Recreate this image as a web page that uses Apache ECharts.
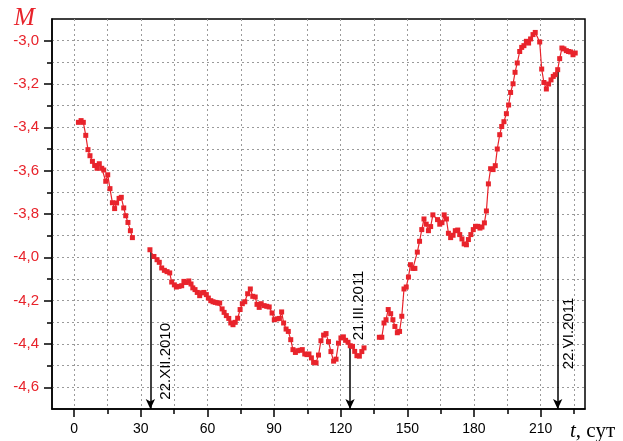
<!DOCTYPE html>
<html><head><meta charset="utf-8">
<script src="https://cdn.jsdelivr.net/npm/echarts@6/dist/echarts.min.js"></script>
<style>html,body{margin:0;padding:0;background:#fff}#c{width:623px;height:441px}</style>
</head><body><div id="c"></div>
<script>
// ---- data (t in days, M) ----
const seg1Days = [1.9,3.1,4.1,5.2,6.2,7.1,8.2,9.2,10.3,11.3,12.4,13.3,14.2,15.1,16.1,17.2,18.2,19.1,20.2,21.2,22.3,23.2,24.2,25.3,26.2];
const seg1M = [-3.377,-3.369,-3.377,-3.437,-3.503,-3.531,-3.557,-3.576,-3.589,-3.568,-3.589,-3.597,-3.649,-3.619,-3.683,-3.748,-3.775,-3.749,-3.728,-3.723,-3.772,-3.808,-3.839,-3.877,-3.909];

const seg2Days = [34.1,35.9,37.3,38.3,39.4,40.6,41.8,43.0,43.9,45.1,46.0,47.2,48.4,49.4,50.5,51.6,52.6,53.4,54.4,55.4,56.5,57.4,58.4,59.5,60.4,61.5,62.5,63.5,64.6,65.5,66.6,67.5,68.5,69.6,70.5,71.5,72.5,73.6,74.7,75.7,76.8,78.1,79.3,80.4,81.5,82.3,83.3,84.2,85.5,86.7,87.8,89.1,90.1,91.3,92.4,93.4,94.3,95.4,96.4,97.5,98.5,99.6,100.6,101.7,102.7,103.8,104.8,105.7,106.8,107.8,108.9,110.0,111.1,112.3,113.4,114.5,115.6,116.8,117.9,119.0,120.1,121.2,122.2,123.3,124.3,125.3,126.3,127.3,128.4,129.5,130.5];
const seg2M = [-3.965,-3.996,-4.011,-4.023,-4.049,-4.060,-4.066,-4.072,-4.114,-4.127,-4.137,-4.134,-4.131,-4.111,-4.116,-4.109,-4.123,-4.141,-4.149,-4.162,-4.177,-4.164,-4.162,-4.172,-4.188,-4.200,-4.205,-4.208,-4.211,-4.211,-4.238,-4.254,-4.269,-4.282,-4.303,-4.311,-4.300,-4.281,-4.241,-4.214,-4.205,-4.168,-4.146,-4.180,-4.183,-4.217,-4.231,-4.214,-4.223,-4.226,-4.229,-4.257,-4.288,-4.284,-4.282,-4.252,-4.303,-4.331,-4.342,-4.380,-4.426,-4.439,-4.431,-4.429,-4.426,-4.446,-4.449,-4.446,-4.464,-4.485,-4.487,-4.451,-4.385,-4.359,-4.352,-4.389,-4.435,-4.479,-4.470,-4.396,-4.372,-4.367,-4.383,-4.392,-4.408,-4.411,-4.434,-4.454,-4.456,-4.435,-4.418];

const seg3Days = [137.4,138.5,139.5,140.4,141.4,142.5,143.5,144.4,145.5,146.5,147.5,148.5,149.5,150.5,151.4,152.5,153.4,154.5,155.5,156.5,157.5,158.5,159.5,160.5,161.5,163.6,164.6,165.6,166.6,167.6,168.5,169.5,170.6,171.6,172.7,173.6,174.6,175.6,176.6,177.5,178.6,179.7,180.7,181.7,182.7,183.6,184.7,185.6,186.5,187.5,188.6,189.6,190.5,191.6,192.5,193.5,194.6,195.6,196.5,197.6,198.5,199.5,200.6,201.5,202.5,203.6,204.6,205.5,206.6,207.6,209.6,210.5,211.5,212.6,213.6,214.7,215.7,216.6,217.7,218.6,219.6,220.5,221.6,222.6,223.5,224.6,225.6];
const seg3M = [-4.369,-4.369,-4.303,-4.288,-4.241,-4.260,-4.288,-4.319,-4.348,-4.342,-4.272,-4.146,-4.137,-4.091,-4.034,-4.051,-4.051,-3.976,-3.926,-3.872,-3.823,-3.847,-3.877,-3.858,-3.804,-3.826,-3.847,-3.840,-3.804,-3.823,-3.889,-3.909,-3.898,-3.877,-3.874,-3.895,-3.915,-3.938,-3.942,-3.918,-3.895,-3.872,-3.857,-3.857,-3.865,-3.860,-3.841,-3.786,-3.661,-3.591,-3.595,-3.577,-3.500,-3.434,-3.396,-3.374,-3.337,-3.297,-3.239,-3.199,-3.146,-3.103,-3.050,-3.031,-3.023,-3.003,-3.011,-2.992,-2.972,-2.962,-3.006,-3.131,-3.193,-3.223,-3.200,-3.181,-3.165,-3.157,-3.134,-3.083,-3.034,-3.038,-3.046,-3.050,-3.052,-3.065,-3.057];

// annotations (date markers)
const annDays = [34.3, 124.2, 217.7];
const annFromM = [-3.968, -4.404, -3.134];
const annText = ['22.XII.2010', '21.III.2011', '22.VI.2011'];

// axes ticks
const xMajorTicks = [0,30,60,90,120,150,180,210];
const xMinorTicks = [15,45,75,105,135,165,195,225];
const yMajorTicks = [-4.6,-4.4,-4.2,-4.0,-3.8,-3.6,-3.4,-3.2,-3.0];
const yMinorTicks = [-4.5,-4.3,-4.1,-3.9,-3.7,-3.5,-3.3,-3.1];
const xRange = [-10, 230];
const yRange = [-4.7, -2.9];

// ---- layout / style ----
const RED = '#e8232b';
const annTextBottomM = [-4.657, -4.383, -4.516];
const annTextDx = [15, 9, 11];

function pairs(xs, ys){ return xs.map((x,i)=>[x, ys[i]]); }

const chart = echarts.init(document.getElementById('c'));
const gridLine = {show:true, lineStyle:{color:'#9a9a9a', type:[2,3], width:1}};
const lineSeries = (data) => ({
  type:'line', data, xAxisIndex:0, yAxisIndex:0,
  symbol:'rect', symbolSize:5, showSymbol:true,
  lineStyle:{color:RED, width:1.2}, itemStyle:{color:RED},
  emphasis:{disabled:true}, animation:false, z:5
});

chart.setOption({
  animation:false,
  grid:{left:52, right:38, top:19, bottom:32, show:true, borderColor:'#000', borderWidth:1.5, backgroundColor:'transparent'},
  xAxis:[
    {type:'value', min:xRange[0], max:xRange[1], position:'bottom',
     axisLine:{show:true, onZero:false, lineStyle:{color:'#000', width:1.5}},
     axisTick:{show:true, inside:false, length:8, customValues:xMajorTicks, lineStyle:{color:'#000', width:1.5}},
     axisLabel:{show:true, customValues:xMajorTicks, margin:13, color:'#000', fontFamily:'Liberation Sans', fontSize:14},
     splitLine:gridLine},
    {type:'value', min:xRange[0], max:xRange[1], position:'bottom',
     axisLine:{show:false, onZero:false},
     axisTick:{show:true, inside:false, length:5, customValues:xMinorTicks, lineStyle:{color:'#000', width:1.5}},
     axisLabel:{show:false}, splitLine:gridLine}
  ],
  yAxis:[
    {type:'value', min:yRange[0], max:yRange[1], position:'left',
     axisLine:{show:true, onZero:false, lineStyle:{color:'#000', width:1.5}},
     axisTick:{show:true, inside:false, length:8, customValues:yMajorTicks, lineStyle:{color:'#000', width:1.5}},
     axisLabel:{show:true, customValues:yMajorTicks, margin:13, color:RED, fontFamily:'Liberation Sans', fontSize:15,
       formatter: v => Number(v).toFixed(1).replace('.', ',')},
     splitLine:gridLine},
    {type:'value', min:yRange[0], max:yRange[1], position:'left',
     axisLine:{show:false, onZero:false},
     axisTick:{show:true, inside:false, length:5, customValues:yMinorTicks, lineStyle:{color:'#000', width:1.5}},
     axisLabel:{show:false}, splitLine:gridLine}
  ],
  series:[
    lineSeries(pairs(seg1Days, seg1M)),
    lineSeries(pairs(seg2Days, seg2M)),
    lineSeries(pairs(seg3Days, seg3M)),
    {type:'line', data:[], xAxisIndex:0, yAxisIndex:0, silent:true,
     markLine:{silent:true, symbol:['none','arrow'], symbolSize:[7,10], animation:false,
       label:{show:false}, emphasis:{disabled:true},
       lineStyle:{color:'#000', width:1.5, type:'solid'},
       data: annDays.map((d,i)=>[{coord:[d, annFromM[i]]},{coord:[d, yRange[0]]}])}}
  ]
});

const g = [];
annDays.forEach((d,i)=>{
  const p = chart.convertToPixel({xAxisIndex:0, yAxisIndex:0}, [d, annTextBottomM[i]]);
  g.push({type:'text', x:p[0]+annTextDx[i], y:p[1], rotation:Math.PI/2, z:20,
    style:{text:annText[i], fill:'#000', font:'15px "Liberation Sans"', textAlign:'left', textVerticalAlign:'middle'}});
});
g.push({type:'text', x:14, y:18, z:20, style:{text:'M', fill:RED, font:'italic 25px "Liberation Serif"', textAlign:'left', textVerticalAlign:'middle'}});
g.push({type:'text', x:570, y:431, z:20, style:{text:'{i|t}{r|, сут}', textAlign:'left', textVerticalAlign:'middle',
  rich:{i:{fontStyle:'italic', fontFamily:'Liberation Serif', fontSize:21, fill:'#000'},
        r:{fontFamily:'Liberation Serif', fontSize:21, fill:'#000'}}}});
chart.setOption({graphic:g});
</script>
</body></html>
